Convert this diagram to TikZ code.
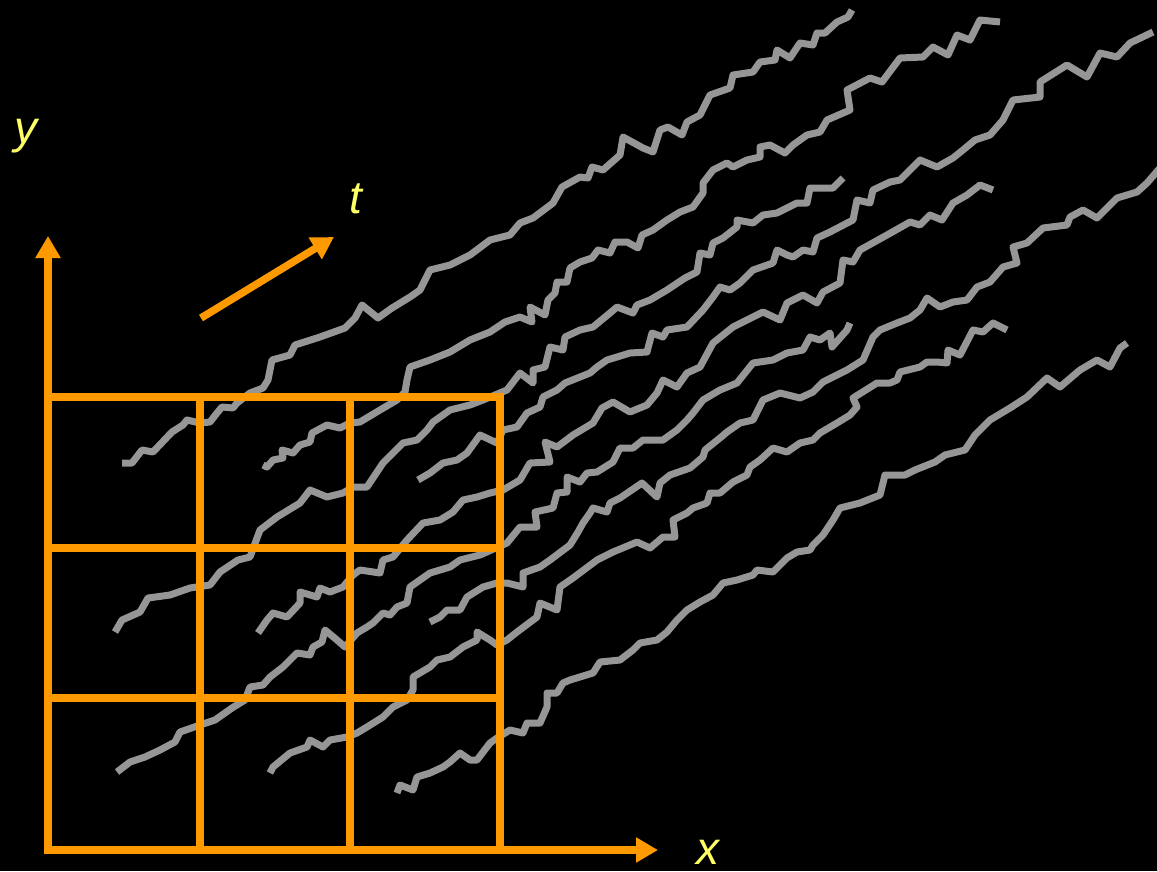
\documentclass[tikz,border=0pt]{standalone}
\usepackage{fontspec}
\setmainfont{Liberation Sans}
\usetikzlibrary{arrows.meta}
\definecolor{bg}{HTML}{000000}
\definecolor{gridorange}{HTML}{FF9900}
\definecolor{walkgray}{HTML}{969696}
\definecolor{labelyellow}{HTML}{FFFF66}
\tikzset{
  walk/.style={draw=walkgray, line width=7pt, line join=round, line cap=butt},
  gridline/.style={draw=gridorange, line width=7.5pt, line cap=rect},
  axisarrow/.style={draw=gridorange, fill=gridorange, line width=7.5pt,
    -{Triangle[width=24pt,length=22pt]}},
  axislabel/.style={text=labelyellow, inner sep=0pt, anchor=base,
    font=\fontsize{46}{46}\selectfont\itshape},
}
\begin{document}
\begin{tikzpicture}[x=1pt,y=-1pt]
\fill[bg] (0,0) rectangle (1157,871);
\useasboundingbox (0,0) rectangle (1157,871);

% random walks
\draw[walk] plot coordinates {(122,463) (132,463) (142,450) (153,452) (172,432) (183,425) (187,420) (200,423) (210,422) (217,413) (222,407) (233,408) (237,403) (250,393) (263,388) (268,380) (272,360) (290,355) (295,345) (320,337) (345,328) (355,318) (362,305) (378,318) (392,308) (410,297) (420,290) (430,270) (450,265) (470,255) (490,240) (510,235) (520,223) (533,218) (553,203) (562,187) (580,177) (588,178) (592,167) (603,170) (620,155) (623,137) (643,148) (653,152) (660,130) (668,127) (682,135) (687,122) (700,115) (710,95) (730,88) (733,75) (753,72) (760,62) (775,60) (777,50) (790,58) (800,43) (813,45) (817,33) (825,33) (837,22) (848,17) (852,10)};
\draw[walk] plot coordinates {(263,465) (267,467) (273,460) (283,458) (282,450) (293,453) (300,445) (310,442) (312,433) (327,425) (340,428) (350,423) (360,422) (380,410) (397,400) (405,392) (407,380) (410,367) (430,360) (450,352) (470,340) (490,332) (505,322) (520,317) (532,322) (530,307) (545,315) (548,300) (555,293) (557,282) (567,282) (570,268) (580,262) (592,258) (598,250) (610,253) (615,242) (627,242) (638,248) (642,235) (653,230) (667,220) (680,212) (693,207) (703,193) (703,183) (713,170) (727,163) (733,167) (747,160) (760,157) (760,147) (770,145) (785,153) (793,145) (807,135) (820,132) (827,120) (850,110) (847,90) (870,78) (882,82) (900,58) (923,57) (933,47) (948,55) (957,35) (970,40) (980,20) (1000,22)};
\draw[walk] plot coordinates {(418,480) (430,473) (443,463) (457,460) (467,453) (480,435) (497,443) (503,430) (517,427) (527,413) (540,407) (543,397) (557,390) (565,383) (580,377) (590,373) (597,367) (607,360) (617,357) (630,353) (647,352) (652,333) (663,337) (667,330) (687,327) (703,310) (713,297) (720,287) (730,290) (740,283) (753,270) (773,263) (777,250) (787,255) (793,257) (803,250) (813,252) (817,238) (830,232) (853,220) (857,200) (870,203) (873,190) (890,182) (900,180) (920,160) (937,167) (953,158) (963,150) (975,140) (990,135) (1003,120) (1013,100) (1040,97) (1040,82) (1067,65) (1087,77) (1100,53) (1117,57) (1130,43) (1153,32)};
\draw[walk] plot coordinates {(115,632) (122,620) (140,612) (148,598) (170,595) (190,588) (210,585) (220,572) (238,560) (250,557) (260,530) (277,517) (300,503) (310,490) (327,497) (343,493) (353,487) (367,487) (383,463) (403,443) (417,440) (427,430) (433,422) (450,410) (470,405) (483,400) (507,390) (520,373) (533,383) (533,370) (545,367) (550,347) (563,350) (565,337) (580,330) (593,327) (610,313) (617,307) (633,313) (637,305) (650,300) (667,290) (685,278) (697,272) (700,253) (710,255) (713,243) (723,238) (737,227) (737,220) (753,223) (763,215) (777,213) (787,208) (797,203) (807,203) (810,188) (820,188) (833,188) (843,178)};
\draw[walk] plot coordinates {(258,633) (267,620) (273,613) (287,617) (300,603) (300,592) (317,597) (320,588) (330,592) (343,587) (353,575) (360,570) (380,573) (383,560) (393,557) (407,540) (423,523) (440,520) (453,512) (463,500) (477,497) (490,493) (503,490) (520,480) (530,463) (550,462) (545,442) (557,447) (573,435) (593,423) (602,408) (613,402) (630,412) (647,405) (657,393) (663,380) (677,387) (687,373) (700,367) (713,343) (733,327) (763,312) (780,320) (787,303) (803,295) (817,303) (823,292) (840,283) (843,260) (853,262) (860,250) (887,235) (910,222) (920,225) (930,215) (942,220) (953,203) (967,195) (980,185) (993,190)};
\draw[walk] plot coordinates {(430,622) (440,617) (447,610) (460,610) (467,597) (483,587) (497,583) (507,583) (523,587) (523,573) (540,567) (550,560) (570,545) (578,532) (583,523) (590,513) (593,508) (607,512) (610,503) (620,498) (642,483) (657,497) (660,483) (670,475) (690,468) (703,457) (705,450) (720,438) (727,432) (740,423) (753,420) (763,400) (780,393) (800,398) (813,392) (823,382) (847,370) (863,360) (873,337) (880,330) (897,323) (910,318) (920,310) (927,298) (940,307) (953,302) (967,300) (977,287) (990,282) (1003,267) (1017,263) (1013,247) (1027,243) (1043,228) (1067,225) (1070,217) (1083,210) (1097,218) (1117,198) (1137,192) (1147,183) (1160,168)};
\draw[walk] plot coordinates {(117,772) (130,762) (145,757) (160,750) (175,742) (180,732) (200,725) (215,720) (232,708) (245,700) (250,687) (263,685) (270,677) (283,667) (297,653) (310,655) (313,647) (322,642) (325,630) (337,640) (345,647) (357,633) (367,627) (373,623) (383,613) (390,615) (397,607) (407,603) (410,587) (430,573) (450,567) (460,560) (480,555) (507,543) (520,527) (537,527) (535,512) (553,508) (557,493) (567,492) (567,477) (580,482) (587,473) (597,472) (613,462) (620,448) (633,448) (643,440) (663,440) (677,430) (687,420) (693,413) (703,400) (720,390) (737,383) (753,363) (773,360) (787,353) (803,350) (810,337) (820,340) (830,333) (832,347) (847,330) (850,323)};
\draw[walk] plot coordinates {(270,773) (273,767) (290,753) (307,747) (310,740) (323,747) (330,740) (347,737) (357,733) (367,727) (383,717) (393,707) (407,700) (413,690) (413,677) (430,667) (437,660) (450,657) (463,647) (477,640) (477,632) (490,640) (497,645) (507,640) (517,632) (537,617) (540,603) (557,610) (560,587) (573,578) (597,560) (613,552) (637,542) (650,548) (663,537) (675,537) (673,520) (687,513) (693,508) (707,503) (710,493) (720,493) (733,482) (747,475) (750,467) (760,460) (773,448) (787,452) (800,443) (813,440) (820,433) (837,423) (850,415) (857,407) (853,398) (877,383) (890,383) (897,380) (900,372) (920,367) (927,362) (937,362) (947,363) (948,350) (960,355) (973,330) (983,332) (993,323) (1007,330)};
\draw[walk] plot coordinates {(397,793) (400,785) (413,790) (417,777) (430,773) (443,767) (450,762) (460,753) (470,760) (477,760) (490,743) (497,738) (510,730) (523,733) (527,723) (540,723) (547,707) (547,693) (557,693) (563,683) (570,680) (593,673) (600,662) (620,660) (633,650) (640,643) (657,640) (667,632) (677,620) (687,610) (700,602) (713,595) (723,583) (737,580) (753,575) (757,570) (773,572) (787,558) (797,552) (810,550) (813,545) (823,535) (833,520) (840,508) (860,503) (880,495) (885,475) (905,475) (915,470) (935,462) (945,455) (965,450) (975,435) (990,420) (1010,408) (1027,397) (1047,378) (1060,387) (1080,370) (1097,360) (1110,367) (1120,348) (1127,343)};

% grid
\coordinate (O) at (48,850);
\coordinate (C) at (500,397);
\draw[gridline] (O) rectangle (C);
\draw[gridline] (200,397) -- (200,850);
\draw[gridline] (350,397) -- (350,850);
\draw[gridline] (48,548) -- (500,548);
\draw[gridline] (48,698) -- (500,698);

% axes
\coordinate (Ytip) at (48,236);
\coordinate (Xstart) at (500,850);
\coordinate (Xtip) at (658,850);
\coordinate (Ystart) at (48,397);
\draw[axisarrow] (Ystart) -- (Ytip);
\draw[axisarrow] (Xstart) -- (Xtip);

% time arrow
\coordinate (Tstart) at (201,318);
\coordinate (Ttip) at (334,237);
\draw[axisarrow] (Tstart) -- (Ttip);

% labels
\node[axislabel] (ylab) at (26,143) {y};
\node[axislabel] (tlab) at (356,213) {t};
\node[axislabel] (xlab) at (708,864) {x};
\end{tikzpicture}
\end{document}
